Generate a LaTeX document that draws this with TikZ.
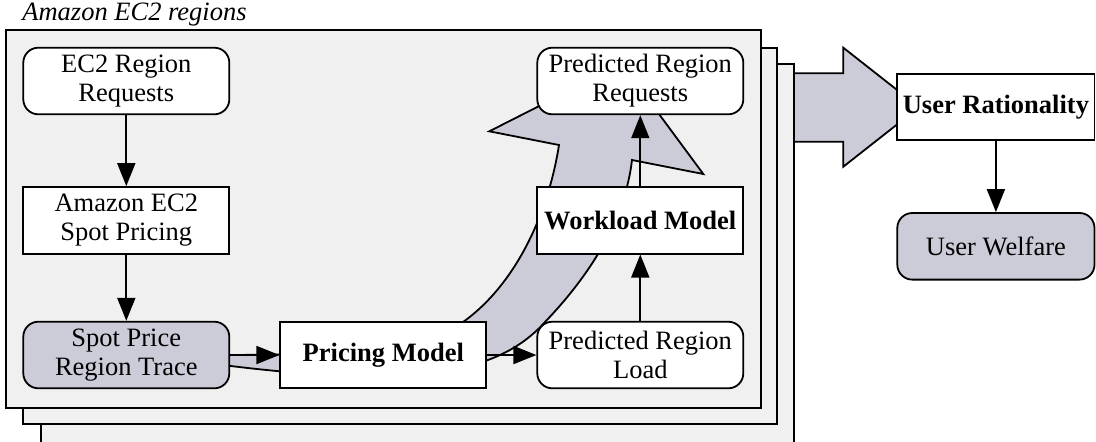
\documentclass[tikz,border=0pt]{standalone}
\usepackage{fontspec}
\setmainfont{Liberation Serif}
\usetikzlibrary{arrows.meta}
\definecolor{framefill}{RGB}{240,240,240}
\definecolor{hl}{RGB}{204,204,216}
\tikzset{
  every node/.style={font=\fontsize{13.25}{14.5}\selectfont, inner sep=0pt, align=center},
  box/.style={draw=black, line width=0.9pt, fill=white, minimum width=103pt, minimum height=33.3pt},
  rbox/.style={box, rounded corners=7.5pt},
  gbox/.style={rbox, fill=hl},
  frame/.style={draw=black, line width=0.9pt, fill=framefill},
  blockarrow/.style={draw=black, line width=0.9pt, fill=hl, line join=miter},
  arr/.style={draw=black, line width=0.9pt, -{Triangle[length=11.5pt, width=9pt]}},
}
\begin{document}
\begin{tikzpicture}[x=0.5pt, y=-0.5pt]
\clip (0,0) rectangle (1096,441);
\fill[white] (0,0) rectangle (1096,441);

% big block arrow to the right
\path[blockarrow] (760,73.3) -- (843.3,73.3) -- (843.3,47.7) -- (919,107.2) -- (843.3,166.7) -- (843.3,141.7) -- (760,141.7) -- cycle;

% stacked frames
\path[frame] (40.7,64.3) rectangle (794.3,460);
\path[frame] (23.3,47.7) rectangle (777.3,424);
\path[frame] (6,30) rectangle (760.7,407.7);

\node[anchor=base west, font=\fontsize{13.25}{14.5}\selectfont\itshape] (title) at (22,20) {Amazon EC2 regions};

% curved block arrow
\path[blockarrow] (200,362) .. controls (420,392) and (500,372) .. (545,322)
  .. controls (590,275) and (625,220) .. (632,160)
  -- (703.3,174) -- (622,64) -- (489.3,131.3) -- (559,145)
  .. controls (548,215) and (515,285) .. (463,322)
  .. controls (400,355) and (300,355) .. (200,355) -- cycle;

% nodes
\node[rbox] (req) at (126.3,81) {EC2 Region\\Requests};
\node[box] (spot) at (126.3,220.3) {Amazon EC2\\Spot Pricing};
\node[gbox] (trace) at (126.3,355) {Spot Price\\Region Trace};
\node[box, font=\fontsize{13.25}{14.5}\selectfont\bfseries] (pm) at (383.3,355) {Pricing Model};
\node[rbox] (load) at (640.3,355) {Predicted Region\\Load};
\node[box, font=\fontsize{13.25}{14.5}\selectfont\bfseries] (wm) at (640.3,220.3) {Workload Model};
\node[rbox] (preq) at (640.3,81) {Predicted Region\\Requests};
\node[box, minimum width=98.6pt, font=\fontsize{13.25}{14.5}\selectfont\bfseries] (ur) at (995.9,107) {User Rationality};
\node[gbox, minimum width=98.6pt] (uw) at (995.9,246.3) {User Welfare};

% connectors
\draw[arr] (req) -- (spot);
\draw[arr] (spot) -- (trace);
\draw[arr] (trace) -- (pm);
\draw[arr] (pm) -- (load);
\draw[arr] (load) -- (wm);
\draw[arr] (wm) -- (preq);
\draw[arr] (ur) -- (uw);
\end{tikzpicture}
\end{document}
